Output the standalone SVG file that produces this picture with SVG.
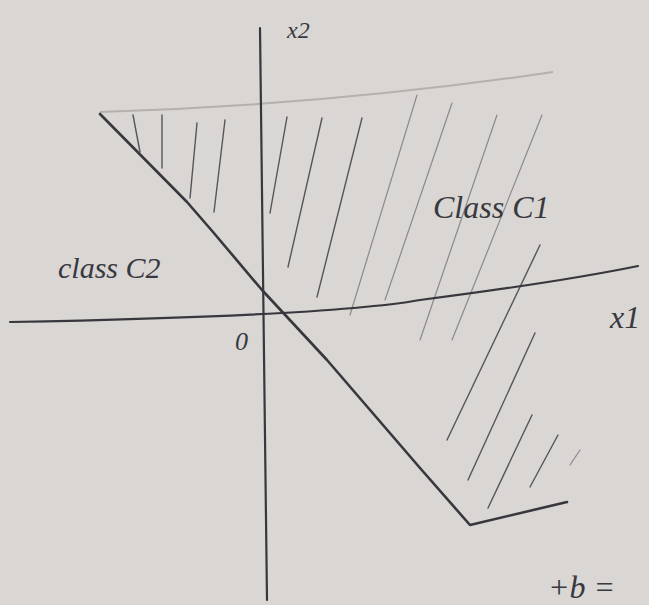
<svg xmlns="http://www.w3.org/2000/svg" width="649" height="605" viewBox="0 0 649 605">
<style>
.ink{fill:none;stroke:#37373d;stroke-linecap:round;stroke-linejoin:round}
.axis{stroke-width:2.2}
.cut{stroke-width:2.6}
.h{fill:none;stroke:#55555b;stroke-width:1.4;stroke-linecap:round}
.hf{fill:none;stroke:#8a898c;stroke-width:1.2;stroke-linecap:round}
.lbl{font-family:"Liberation Serif",serif;font-style:italic;fill:#38383f}
</style>
<rect width="649" height="605" fill="#d9d6d3"/>
<g id="boundary-top">
<path d="M100,112 Q330,105 553,72" fill="none" stroke="#b3b0ae" stroke-width="2"/>
</g>
<g id="hatching">
<line class="h" x1="133" y1="115" x2="140" y2="152"/>
<line class="h" x1="162" y1="115" x2="162" y2="168"/>
<line class="h" x1="197" y1="123" x2="190" y2="198"/>
<line class="h" x1="225" y1="120" x2="214" y2="212"/>
<line class="h" x1="287" y1="117" x2="270" y2="213"/>
<line class="h" x1="322" y1="118" x2="288" y2="267"/>
<line class="h" x1="362" y1="118" x2="317" y2="297"/>
<line class="hf" x1="417" y1="95" x2="350" y2="315"/>
<line class="hf" x1="452" y1="103" x2="385" y2="300"/>
<line class="hf" x1="497" y1="115" x2="420" y2="340"/>
<line class="hf" x1="542" y1="115" x2="452" y2="340"/>
<line class="h" x1="540" y1="245" x2="447" y2="440"/>
<line class="h" x1="535" y1="333" x2="468" y2="480"/>
<line class="h" x1="532" y1="415" x2="488" y2="508"/>
<line class="h" x1="558" y1="435" x2="530" y2="487"/>
<line class="hf" x1="580" y1="450" x2="570" y2="465"/>
</g>
<g id="axes">
<path class="ink axis" d="M10,322 Q330,316 420,300 Q560,282 638,266"/>
<path class="ink axis" d="M260,28 L267,600"/>
</g>
<g id="decision-boundary">
<polyline class="ink cut" points="100,114 187,202 213,232 262,290 327,360 420,468 470,525 567,502"/>
</g>
<g id="labels">
<text class="lbl" x="287" y="38" font-size="24">x2</text>
<text class="lbl" x="58" y="278" font-size="30">class C2</text>
<text class="lbl" x="433" y="218" font-size="32">Class C1</text>
<text class="lbl" x="610" y="328" font-size="32">x1</text>
<text class="lbl" x="235" y="350" font-size="26">0</text>
<text class="lbl" x="548" y="598" font-size="32">+b =</text>
</g>
</svg>
